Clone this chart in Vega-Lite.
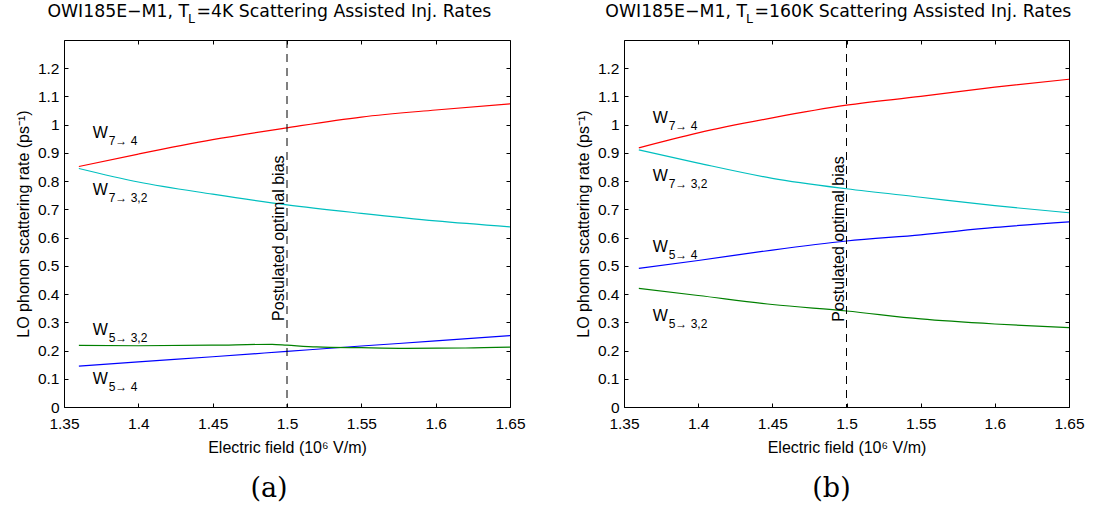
{
  "$schema": "https://vega.github.io/schema/vega-lite/v6.json",
  "background": "white",
  "padding": {"left": 14, "top": 2, "right": 0, "bottom": 0},
  "bounds": "flush",
  "spacing": 114,
  "datasets": {
    "a_lines": [
      {"E": 1.36, "rate": 0.852, "curve": "W7→4"},
      {"E": 1.40, "rate": 0.896, "curve": "W7→4"},
      {"E": 1.45, "rate": 0.947, "curve": "W7→4"},
      {"E": 1.50, "rate": 0.989, "curve": "W7→4"},
      {"E": 1.55, "rate": 1.027, "curve": "W7→4"},
      {"E": 1.60, "rate": 1.052, "curve": "W7→4"},
      {"E": 1.65, "rate": 1.074, "curve": "W7→4"},
      {"E": 1.36, "rate": 0.845, "curve": "W7→3,2"},
      {"E": 1.40, "rate": 0.797, "curve": "W7→3,2"},
      {"E": 1.45, "rate": 0.754, "curve": "W7→3,2"},
      {"E": 1.50, "rate": 0.716, "curve": "W7→3,2"},
      {"E": 1.55, "rate": 0.686, "curve": "W7→3,2"},
      {"E": 1.60, "rate": 0.659, "curve": "W7→3,2"},
      {"E": 1.65, "rate": 0.638, "curve": "W7→3,2"},
      {"E": 1.36, "rate": 0.145, "curve": "W5→4"},
      {"E": 1.40, "rate": 0.160, "curve": "W5→4"},
      {"E": 1.45, "rate": 0.178, "curve": "W5→4"},
      {"E": 1.50, "rate": 0.197, "curve": "W5→4"},
      {"E": 1.55, "rate": 0.216, "curve": "W5→4"},
      {"E": 1.60, "rate": 0.234, "curve": "W5→4"},
      {"E": 1.65, "rate": 0.253, "curve": "W5→4"},
      {"E": 1.36, "rate": 0.218, "curve": "W5→3,2"},
      {"E": 1.40, "rate": 0.217, "curve": "W5→3,2"},
      {"E": 1.45, "rate": 0.219, "curve": "W5→3,2"},
      {"E": 1.49, "rate": 0.222, "curve": "W5→3,2"},
      {"E": 1.50, "rate": 0.219, "curve": "W5→3,2"},
      {"E": 1.52, "rate": 0.213, "curve": "W5→3,2"},
      {"E": 1.55, "rate": 0.210, "curve": "W5→3,2"},
      {"E": 1.58, "rate": 0.208, "curve": "W5→3,2"},
      {"E": 1.62, "rate": 0.209, "curve": "W5→3,2"},
      {"E": 1.65, "rate": 0.212, "curve": "W5→3,2"}
    ],
    "b_lines": [
      {"E": 1.36, "rate": 0.918, "curve": "W7→4"},
      {"E": 1.40, "rate": 0.971, "curve": "W7→4"},
      {"E": 1.45, "rate": 1.024, "curve": "W7→4"},
      {"E": 1.50, "rate": 1.069, "curve": "W7→4"},
      {"E": 1.55, "rate": 1.100, "curve": "W7→4"},
      {"E": 1.60, "rate": 1.133, "curve": "W7→4"},
      {"E": 1.65, "rate": 1.161, "curve": "W7→4"},
      {"E": 1.36, "rate": 0.911, "curve": "W7→3,2"},
      {"E": 1.40, "rate": 0.864, "curve": "W7→3,2"},
      {"E": 1.45, "rate": 0.810, "curve": "W7→3,2"},
      {"E": 1.50, "rate": 0.773, "curve": "W7→3,2"},
      {"E": 1.55, "rate": 0.743, "curve": "W7→3,2"},
      {"E": 1.60, "rate": 0.713, "curve": "W7→3,2"},
      {"E": 1.65, "rate": 0.688, "curve": "W7→3,2"},
      {"E": 1.36, "rate": 0.491, "curve": "W5→4"},
      {"E": 1.40, "rate": 0.519, "curve": "W5→4"},
      {"E": 1.45, "rate": 0.556, "curve": "W5→4"},
      {"E": 1.50, "rate": 0.588, "curve": "W5→4"},
      {"E": 1.55, "rate": 0.610, "curve": "W5→4"},
      {"E": 1.60, "rate": 0.636, "curve": "W5→4"},
      {"E": 1.65, "rate": 0.656, "curve": "W5→4"},
      {"E": 1.36, "rate": 0.420, "curve": "W5→3,2"},
      {"E": 1.40, "rate": 0.395, "curve": "W5→3,2"},
      {"E": 1.45, "rate": 0.363, "curve": "W5→3,2"},
      {"E": 1.50, "rate": 0.340, "curve": "W5→3,2"},
      {"E": 1.55, "rate": 0.312, "curve": "W5→3,2"},
      {"E": 1.60, "rate": 0.294, "curve": "W5→3,2"},
      {"E": 1.65, "rate": 0.281, "curve": "W5→3,2"}
    ],
    "a_labels": [
      {"E": 1.3693, "rate": 0.952, "main": "W", "sub": "7→ 4"},
      {"E": 1.3693, "rate": 0.751, "main": "W", "sub": "7→ 3,2"},
      {"E": 1.3693, "rate": 0.255, "main": "W", "sub": "5→ 3,2"},
      {"E": 1.3693, "rate": 0.0815, "main": "W", "sub": "5→ 4"}
    ],
    "b_labels": [
      {"E": 1.3693, "rate": 1.005, "main": "W", "sub": "7→ 4"},
      {"E": 1.3693, "rate": 0.802, "main": "W", "sub": "7→ 3,2"},
      {"E": 1.3693, "rate": 0.548, "main": "W", "sub": "5→ 4"},
      {"E": 1.3693, "rate": 0.3057, "main": "W", "sub": "5→ 3,2"}
    ],
    "one": [{}]
  },
  "hconcat": [
    {
      "width": 446,
      "height": 367,
      "title": {"text": "(a)", "orient": "bottom", "frame": "group", "anchor": "middle", "baseline": "top", "offset": 21, "dx": -18, "font": "DejaVu Serif", "fontSize": 27, "fontWeight": "normal", "color": "black"},
      "resolve": {"axis": {"x": "independent", "y": "independent"}},
      "layer": [
        {
          "data": {"name": "a_lines"},
          "mark": {"type": "line", "strokeWidth": 1.2, "interpolate": "monotone"},
          "encoding": {
            "x": {"field": "E", "type": "quantitative", "scale": {"domain": [1.35, 1.65], "nice": false, "zero": false},
                  "axis": {"orient": "bottom", "title": "Electric field (10⁶ V/m)", "values": [1.35, 1.4, 1.45, 1.5, 1.55, 1.6, 1.65], "labelExpr": "format(datum.value, '.2~f')", "labelBaseline": "alphabetic", "labelPadding": 25, "titleBaseline": "alphabetic", "titleY": 45}},
            "y": {"field": "rate", "type": "quantitative", "scale": {"domain": [0, 1.3], "nice": false, "zero": false},
                  "axis": {"orient": "left", "title": "LO phonon scattering rate (ps⁻¹)", "values": [0, 0.1, 0.2, 0.3, 0.4, 0.5, 0.6, 0.7, 0.8, 0.9, 1, 1.1, 1.2], "labelExpr": "format(datum.value, '.1~f')", "labelPadding": 9, "titleX": -36, "titleY": 183.5, "titleBaseline": "alphabetic", "titleAlign": "center", "titleAngle": 270}},
            "color": {"field": "curve", "type": "nominal", "legend": null,
                      "scale": {"domain": ["W7→4", "W7→3,2", "W5→4", "W5→3,2"], "range": ["#ff0000", "#00bfbf", "#0000ff", "#008000"]}}
          }
        },
        {
          "data": {"name": "one"},
          "mark": {"type": "rule", "color": "black", "strokeWidth": 1, "strokeDash": [8, 6]},
          "encoding": {"x": {"datum": 1.5, "type": "quantitative", "axis": null}}
        },
        {
          "data": {"name": "one"},
          "mark": {"type": "text", "text": "Postulated optimal bias", "angle": 270, "align": "left", "baseline": "alphabetic", "dy": -3, "fontSize": 16},
          "encoding": {"x": {"datum": 1.5, "type": "quantitative", "axis": null}, "y": {"datum": 0.305, "type": "quantitative", "axis": null}}
        },
        {
          "data": {"name": "a_labels"},
          "mark": {"type": "text", "align": "left", "baseline": "alphabetic", "fontSize": 16},
          "encoding": {
            "x": {"field": "E", "type": "quantitative", "axis": {"orient": "top", "labels": false, "title": null, "values": [1.35, 1.4, 1.45, 1.5, 1.55, 1.6, 1.65]}},
            "y": {"field": "rate", "type": "quantitative", "axis": {"orient": "right", "labels": false, "title": null, "values": [0, 0.1, 0.2, 0.3, 0.4, 0.5, 0.6, 0.7, 0.8, 0.9, 1, 1.1, 1.2]}},
            "text": {"field": "main"}
          }
        },
        {
          "data": {"name": "a_labels"},
          "mark": {"type": "text", "align": "left", "baseline": "alphabetic", "fontSize": 12, "dx": 16, "dy": 7},
          "encoding": {
            "x": {"field": "E", "type": "quantitative", "axis": null},
            "y": {"field": "rate", "type": "quantitative", "axis": null},
            "text": {"field": "sub"}
          }
        },
        {
          "data": {"name": "one"},
          "mark": {"type": "text", "text": "OWI185E−M1, T", "align": "right", "baseline": "alphabetic", "font": "DejaVu Sans", "fontSize": 17.3},
          "encoding": {"x": {"datum": 1.4341, "type": "quantitative", "axis": null}, "y": {"datum": 1.3805, "type": "quantitative", "axis": null}}
        },
        {
          "data": {"name": "one"},
          "mark": {"type": "text", "text": "L", "align": "left", "baseline": "alphabetic", "font": "DejaVu Sans", "fontSize": 12.5, "dx": -1, "dy": 6},
          "encoding": {"x": {"datum": 1.4341, "type": "quantitative", "axis": null}, "y": {"datum": 1.3805, "type": "quantitative", "axis": null}}
        },
        {
          "data": {"name": "one"},
          "mark": {"type": "text", "text": "=4K Scattering Assisted Inj. Rates", "align": "left", "baseline": "alphabetic", "font": "DejaVu Sans", "fontSize": 17.3, "dx": 7.5},
          "encoding": {"x": {"datum": 1.4341, "type": "quantitative", "axis": null}, "y": {"datum": 1.3805, "type": "quantitative", "axis": null}}
        }
      ]
    },
    {
      "width": 445,
      "height": 367,
      "title": {"text": "(b)", "orient": "bottom", "frame": "group", "anchor": "middle", "baseline": "top", "offset": 21, "dx": -15, "font": "DejaVu Serif", "fontSize": 27, "fontWeight": "normal", "color": "black"},
      "resolve": {"axis": {"x": "independent", "y": "independent"}},
      "layer": [
        {
          "data": {"name": "b_lines"},
          "mark": {"type": "line", "strokeWidth": 1.2, "interpolate": "monotone"},
          "encoding": {
            "x": {"field": "E", "type": "quantitative", "scale": {"domain": [1.35, 1.65], "nice": false, "zero": false},
                  "axis": {"orient": "bottom", "title": "Electric field (10⁶ V/m)", "values": [1.35, 1.4, 1.45, 1.5, 1.55, 1.6, 1.65], "labelExpr": "format(datum.value, '.2~f')", "labelBaseline": "alphabetic", "labelPadding": 25, "titleBaseline": "alphabetic", "titleY": 45}},
            "y": {"field": "rate", "type": "quantitative", "scale": {"domain": [0, 1.3], "nice": false, "zero": false},
                  "axis": {"orient": "left", "title": "LO phonon scattering rate (ps⁻¹)", "values": [0, 0.1, 0.2, 0.3, 0.4, 0.5, 0.6, 0.7, 0.8, 0.9, 1, 1.1, 1.2], "labelExpr": "format(datum.value, '.1~f')", "labelPadding": 9, "titleX": -36, "titleY": 183.5, "titleBaseline": "alphabetic", "titleAlign": "center", "titleAngle": 270}},
            "color": {"field": "curve", "type": "nominal", "legend": null,
                      "scale": {"domain": ["W7→4", "W7→3,2", "W5→4", "W5→3,2"], "range": ["#ff0000", "#00bfbf", "#0000ff", "#008000"]}}
          }
        },
        {
          "data": {"name": "one"},
          "mark": {"type": "rule", "color": "black", "strokeWidth": 1, "strokeDash": [8, 6]},
          "encoding": {"x": {"datum": 1.5, "type": "quantitative", "axis": null}}
        },
        {
          "data": {"name": "one"},
          "mark": {"type": "text", "text": "Postulated optimal bias", "angle": 270, "align": "left", "baseline": "alphabetic", "dy": -3, "fontSize": 16},
          "encoding": {"x": {"datum": 1.5, "type": "quantitative", "axis": null}, "y": {"datum": 0.302, "type": "quantitative", "axis": null}}
        },
        {
          "data": {"name": "b_labels"},
          "mark": {"type": "text", "align": "left", "baseline": "alphabetic", "fontSize": 16},
          "encoding": {
            "x": {"field": "E", "type": "quantitative", "axis": {"orient": "top", "labels": false, "title": null, "values": [1.35, 1.4, 1.45, 1.5, 1.55, 1.6, 1.65]}},
            "y": {"field": "rate", "type": "quantitative", "axis": {"orient": "right", "labels": false, "title": null, "values": [0, 0.1, 0.2, 0.3, 0.4, 0.5, 0.6, 0.7, 0.8, 0.9, 1, 1.1, 1.2]}},
            "text": {"field": "main"}
          }
        },
        {
          "data": {"name": "b_labels"},
          "mark": {"type": "text", "align": "left", "baseline": "alphabetic", "fontSize": 12, "dx": 16, "dy": 7},
          "encoding": {
            "x": {"field": "E", "type": "quantitative", "axis": null},
            "y": {"field": "rate", "type": "quantitative", "axis": null},
            "text": {"field": "sub"}
          }
        },
        {
          "data": {"name": "one"},
          "mark": {"type": "text", "text": "OWI185E−M1, T", "align": "right", "baseline": "alphabetic", "font": "DejaVu Sans", "fontSize": 17.3},
          "encoding": {"x": {"datum": 1.4329, "type": "quantitative", "axis": null}, "y": {"datum": 1.3805, "type": "quantitative", "axis": null}}
        },
        {
          "data": {"name": "one"},
          "mark": {"type": "text", "text": "L", "align": "left", "baseline": "alphabetic", "font": "DejaVu Sans", "fontSize": 12.5, "dx": -1, "dy": 6},
          "encoding": {"x": {"datum": 1.4329, "type": "quantitative", "axis": null}, "y": {"datum": 1.3805, "type": "quantitative", "axis": null}}
        },
        {
          "data": {"name": "one"},
          "mark": {"type": "text", "text": "=160K Scattering Assisted Inj. Rates", "align": "left", "baseline": "alphabetic", "font": "DejaVu Sans", "fontSize": 17.3, "dx": 7.5},
          "encoding": {"x": {"datum": 1.4329, "type": "quantitative", "axis": null}, "y": {"datum": 1.3805, "type": "quantitative", "axis": null}}
        }
      ]
    }
  ],
  "config": {
    "font": "Liberation Sans",
    "view": {"stroke": "black", "strokeWidth": 1},
    "axis": {"domain": false, "grid": false, "ticks": true, "tickSize": -4, "tickColor": "black", "tickWidth": 1, "labelFlush": false,
             "labelColor": "black", "titleColor": "black", "labelFont": "Liberation Sans", "titleFont": "Liberation Sans",
             "labelFontSize": 15.5, "titleFontSize": 16, "titleFontWeight": "normal"},
    "text": {"font": "Liberation Sans", "color": "black"}
  }
}
